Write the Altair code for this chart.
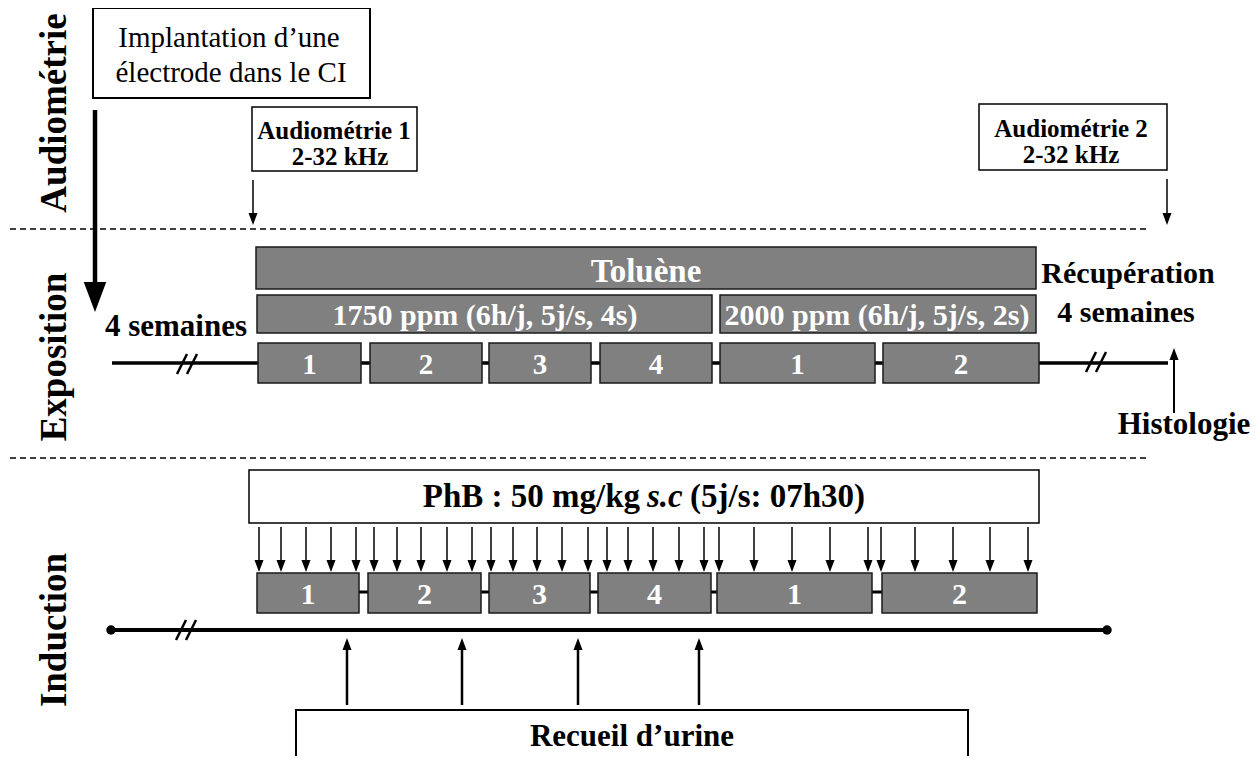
import altair as alt
import pandas as pd

FONT = "Liberation Serif"
GRAY = "#808080"
EDGE = "#1a1a1a"

# ---------------- diagram data (figure coordinates, px) ----------------
panel_labels = ["Audiométrie", "Exposition", "Induction"]
panel_label_y = [113, 357, 630]

expo_week_labels = ["1", "2", "3", "4", "1", "2"]
expo_week_start = [258, 370, 489, 600, 720, 883]
expo_week_end = [361, 482, 591, 712, 875, 1039]

ind_week_labels = ["1", "2", "3", "4", "1", "2"]
ind_week_start = [257, 368, 489, 598, 717, 882]
ind_week_end = [359, 481, 590, 711, 872, 1037]

phb_days = [259, 281, 306, 331, 356, 374, 397, 421, 447, 472,
            491, 513, 537, 562, 588, 607, 628, 653, 679, 704,
            719, 754, 792, 830, 868, 881, 915, 953, 990, 1028]
urine_days = [347, 462, 578, 699]

# white boxes: label, x0, x1, y0, y1
white_box_names = ["implantation", "audio1", "audio2", "phb", "urine"]
white_box_x0 = [93, 252, 979, 249, 296]
white_box_x1 = [370, 417, 1167, 1039, 968]
white_box_y0 = [8, 107, 104, 470, 710]
white_box_y1 = [98, 171, 170, 523, 762]
white_box_sw = [2, 1.5, 1.5, 1.5, 2]

# gray exposure bars
gray_bar_names = ["Toluène", "1750 ppm (6h/j, 5j/s, 4s)", "2000 ppm (6h/j, 5j/s, 2s)"]
gray_bar_x0 = [256, 257, 720]
gray_bar_x1 = [1036, 712, 1036]
gray_bar_y0 = [247, 295, 295]
gray_bar_y1 = [289, 333, 333]
gray_bar_text_x = [646, 485, 877]
gray_bar_text_y = [282, 325, 325]
gray_bar_text_size = [33, 30, 30]

# ---------------- build tables ----------------
W, H = 1244, 748
xs = alt.Scale(domain=[8, 8 + W], nice=False, zero=False)
ys = alt.Scale(domain=[8, 8 + H], nice=False, zero=False, reverse=True)

rects = []
for i in range(len(white_box_names)):
    rects.append(dict(x=white_box_x0[i], x2=white_box_x1[i], y=white_box_y0[i], y2=white_box_y1[i],
                      fill="white", stroke="black", sw=white_box_sw[i]))
for i in range(len(gray_bar_names)):
    rects.append(dict(x=gray_bar_x0[i], x2=gray_bar_x1[i], y=gray_bar_y0[i], y2=gray_bar_y1[i],
                      fill=GRAY, stroke=EDGE, sw=1.5))
for a, b in zip(expo_week_start, expo_week_end):
    rects.append(dict(x=a, x2=b, y=343, y2=383, fill=GRAY, stroke=EDGE, sw=1.5))
for a, b in zip(ind_week_start, ind_week_end):
    rects.append(dict(x=a, x2=b, y=573, y2=613, fill=GRAY, stroke=EDGE, sw=1.5))
rect_df = pd.DataFrame(rects)

# solid lines drawn under the boxes
under = [
    dict(x=112, x2=1168, y=363, y2=363, sw=3.5),                          # exposition timeline
    dict(x=111, x2=1107, y=630, y2=630, sw=4),                            # induction timeline
    dict(x=ind_week_start[0], x2=ind_week_end[-1], y=592, y2=592, sw=3),  # week links
]
under_df = pd.DataFrame(under)

lines = [
    dict(x=95, x2=95, y=110, y2=292, sw=4.5),     # big arrow shaft
    dict(x=253, x2=253, y=180, y2=216, sw=1.5),
    dict(x=1167, x2=1167, y=179, y2=216, sw=1.5),
    dict(x=1174, x2=1174, y=413, y2=356, sw=2),
]
for d in phb_days:
    lines.append(dict(x=d, x2=d, y=527, y2=563, sw=1.5))
for d in urine_days:
    lines.append(dict(x=d, x2=d, y=705, y2=646, sw=2.5))
# break marks "//"
for bx, by in [(177, 374), (1086, 372), (176, 640)]:
    for off in (0, 10):
        lines.append(dict(x=bx + off, x2=bx + off + 10, y=by, y2=by - 20, sw=2.5))
lines_df = pd.DataFrame(lines)

dash_df = pd.DataFrame([
    dict(x=10, x2=1150, y=229, y2=229),
    dict(x=10, x2=1150, y=458, y2=458),
])

# arrow heads: tip position, height, direction
heads = [dict(x=95, tip=312, h=30, d="down"),
         dict(x=253, tip=225, h=12, d="down"),
         dict(x=1167, tip=225, h=12, d="down"),
         dict(x=1174, tip=348, h=12, d="up")]
heads += [dict(x=d, tip=572, h=12, d="down") for d in phb_days]
heads += [dict(x=d, tip=638, h=12, d="up") for d in urine_days]
for hd in heads:
    hd["y"] = hd["tip"] - hd["h"] / 2 if hd["d"] == "down" else hd["tip"] + hd["h"] / 2
    hd["size"] = hd["h"] ** 2
heads_df = pd.DataFrame(heads)

dots_df = pd.DataFrame([dict(x=111, y=630), dict(x=1107, y=630)])

# text
bold_texts = [
    dict(t="Audiométrie 1", x=334, y=139, s=25, c="black"),
    dict(t="2-32 kHz", x=340, y=165, s=25, c="black"),
    dict(t="Audiométrie 2", x=1071, y=137, s=25, c="black"),
    dict(t="2-32 kHz", x=1071, y=163, s=25, c="black"),
    dict(t="4 semaines", x=176, y=336, s=31, c="black"),
    dict(t="Récupération", x=1128, y=283, s=30, c="black"),
    dict(t="4 semaines", x=1126, y=322, s=30, c="black"),
    dict(t="Histologie", x=1184, y=434, s=31, c="black"),
    dict(t="Recueil d’urine", x=632, y=746, s=31, c="black"),
]
for i, name in enumerate(gray_bar_names):
    bold_texts.append(dict(t=name, x=gray_bar_text_x[i], y=gray_bar_text_y[i], s=gray_bar_text_size[i], c="white"))
for lab, a, b in zip(expo_week_labels, expo_week_start, expo_week_end):
    bold_texts.append(dict(t=lab, x=(a + b) / 2, y=374, s=29, c="white"))
for lab, a, b in zip(ind_week_labels, ind_week_start, ind_week_end):
    bold_texts.append(dict(t=lab, x=(a + b) / 2, y=604, s=30, c="white"))
bold_df = pd.DataFrame(bold_texts)

normal_df = pd.DataFrame([
    dict(t="Implantation d’une", x=229, y=47, s=29, c="black"),
    dict(t="électrode dans le CI", x=231, y=82, s=29, c="black"),
])

panel_df = pd.DataFrame(dict(t=panel_labels, x=[66] * 3, y=panel_label_y, s=[37] * 3, c=["black"] * 3))

phb_right_df = pd.DataFrame([dict(t="PhB : 50 mg/kg", x=640, y=507, s=33, c="black")])
phb_ital_df = pd.DataFrame([dict(t="s.c", x=647, y=507, s=33, c="black")])
phb_left_df = pd.DataFrame([dict(t="(5j/s: 07h30)", x=690, y=507, s=33, c="black")])

# ---------------- layers ----------------
def X(f="x"):
    return alt.X(f + ":Q", scale=xs, axis=None)

def Y(f="y"):
    return alt.Y(f + ":Q", scale=ys, axis=None)

def rule_layer(df, dash=None):
    kw = dict(color="black")
    if dash:
        kw["strokeDash"] = dash
        kw["strokeWidth"] = 1.3
    ch = alt.Chart(df).mark_rule(**kw)
    enc = dict(x=X(), x2=alt.X2("x2:Q"), y=Y(), y2=alt.Y2("y2:Q"))
    if "sw" in df.columns:
        enc["strokeWidth"] = alt.StrokeWidth("sw:Q", scale=None)
    return ch.encode(**enc)

def text_layer(df, **kw):
    base = dict(font=FONT, baseline="alphabetic", align="center")
    base.update(kw)
    return alt.Chart(df).mark_text(**base).encode(
        x=X(), y=Y(), text="t:N",
        size=alt.Size("s:Q", scale=None),
        color=alt.Color("c:N", scale=None),
    )

rect_layer = alt.Chart(rect_df).mark_rect().encode(
    x=X(), x2=alt.X2("x2:Q"), y=Y(), y2=alt.Y2("y2:Q"),
    fill=alt.Fill("fill:N", scale=None),
    stroke=alt.Stroke("stroke:N", scale=None),
    strokeWidth=alt.StrokeWidth("sw:Q", scale=None),
)

down_path = "M-0.75,-1L0.75,-1L0,1Z"
up_path = "M-0.75,1L0.75,1L0,-1Z"
down_layer = alt.Chart(heads_df[heads_df.d == "down"]).mark_point(
    shape=down_path, filled=True, color="black", opacity=1, strokeWidth=0
).encode(x=X(), y=Y(), size=alt.Size("size:Q", scale=None))
up_layer = alt.Chart(heads_df[heads_df.d == "up"]).mark_point(
    shape=up_path, filled=True, color="black", opacity=1, strokeWidth=0
).encode(x=X(), y=Y(), size=alt.Size("size:Q", scale=None))

dot_layer = alt.Chart(dots_df).mark_circle(color="black", opacity=1, size=90).encode(x=X(), y=Y())

chart = alt.layer(
    rule_layer(dash_df, dash=[6, 4]),
    rule_layer(under_df),
    dot_layer,
    rect_layer,
    rule_layer(lines_df),
    down_layer,
    up_layer,
    text_layer(bold_df, fontWeight="bold"),
    text_layer(normal_df, fontWeight="normal"),
    text_layer(panel_df, fontWeight="bold", angle=270),
    text_layer(phb_right_df, fontWeight="bold", align="right"),
    text_layer(phb_ital_df, fontWeight="bold", fontStyle="italic", align="left"),
    text_layer(phb_left_df, fontWeight="bold", align="left"),
).properties(
    width=W, height=H, padding=0,
    autosize=alt.AutoSizeParams(type="none"),
    background="white",
).configure_view(strokeWidth=0)

chart.save("out.html", embed_options={"renderer": "svg", "actions": False})
